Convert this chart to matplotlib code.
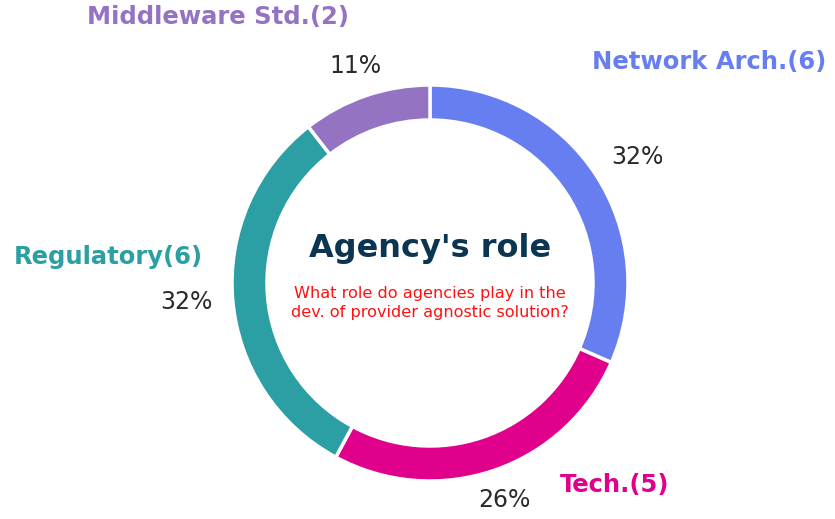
import matplotlib.pyplot as plt

# dados
categorias = ['Network Arch.', 'Tech.', 'Regulatory', 'Middleware Std.']
valores = [6, 5, 6, 2]
cores = ['#667ef0', '#e0008b', '#2b9fa3', '#9473c3']

titulo = "Agency's role"
subtitulo = "What role do agencies play in the\ndev. of provider agnostic solution?"

# posicoes dos rotulos (pixels, origem no topo)
pos_rotulos = [(709, 62), (615, 485), (108, 257), (218, 17)]

W, H = 835, 519
fig = plt.figure(figsize=(W / 100, H / 100), dpi=100)
ax = fig.add_axes([0, 0, 1, 1])

cx, cy = 430, H - 283
raio = 198

wedges, textos, pcts = ax.pie(
    valores, colors=cores, startangle=90, counterclock=False,
    center=(cx, cy), radius=raio,
    autopct=lambda p: '%d%%' % round(p), pctdistance=1.16,
    wedgeprops=dict(width=35, edgecolor='white', linewidth=2.5),
    textprops=dict(fontsize=17, color='#2a2a2a'),
    frame=True)
ax.set_xlim(0, W)
ax.set_ylim(0, H)
ax.set_aspect('equal')
ax.axis('off')

# afastar um pouco os percentuais laterais
for t in pcts:
    x, y = t.get_position()
    if abs(x - cx) > 100:
        t.set_x(x + 15 * (1 if x > cx else -1))

# rotulos das categorias
for cat, v, cor, (px, py) in zip(categorias, valores, cores, pos_rotulos):
    ax.text(px, H - py, '%s(%d)' % (cat, v), color=cor, fontsize=17.5,
            fontweight='bold', ha='center', va='center')

# texto central
ax.text(cx, H - 249, titulo, color='#0b3550', fontsize=23,
        fontweight='bold', ha='center', va='center')
ax.text(cx, H - 303, subtitulo, color='#ff1111', fontsize=11.6,
        ha='center', va='center', linespacing=1.4)

fig.savefig('out.png', dpi=100)
